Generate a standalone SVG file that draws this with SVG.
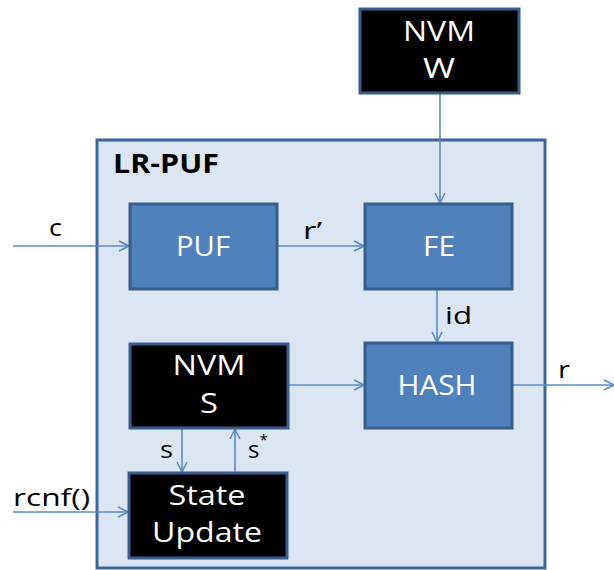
<svg xmlns="http://www.w3.org/2000/svg" width="614" height="570" viewBox="0 0 614 570">
  <defs>
    <style>
      .frame { fill: #dce6f2; stroke: #3c6494; stroke-width: 3; }
      .blue { fill: #4f81bd; stroke: #385d8a; stroke-width: 3; }
      .dark { fill: #000000; stroke: #385d8a; stroke-width: 3; }
      .wire { fill: none; stroke: #5b8bc7; stroke-width: 1.6; marker-end: url(#open); }
      .in { font-family: "Open Sans", "Liberation Sans", sans-serif; font-size: 28px; fill: #ffffff; text-anchor: middle; }
      .lbl { font-family: "Open Sans", "Liberation Sans", sans-serif; font-size: 24px; fill: #000000; }
      .title { font-family: "Open Sans", "Liberation Sans", sans-serif; font-size: 27px; font-weight: bold; fill: #000000; }
    </style>
    <marker id="open" viewBox="0 0 12 12" refX="11" refY="6" markerWidth="12" markerHeight="12" markerUnits="userSpaceOnUse" orient="auto">
      <path d="M1,1 L11,6 L1,11" fill="none" stroke="#5b8bc7" stroke-width="1.6"/>
    </marker>
  </defs>

  <!-- outer LR-PUF container -->
  <g id="lr-puf">
    <rect class="frame" x="97" y="140" width="448" height="428"/>
    <text class="title" x="113" y="173" textLength="106" lengthAdjust="spacingAndGlyphs">LR-PUF</text>
  </g>

  <!-- connectors and their labels -->
  <g id="connectors">
    <line class="wire" x1="13" y1="246" x2="129" y2="246"/>
    <line class="wire" x1="277" y1="246" x2="364" y2="246"/>
    <line class="wire" x1="440" y1="93" x2="440" y2="203"/>
    <line class="wire" x1="437" y1="289" x2="437" y2="342"/>
    <line class="wire" x1="288" y1="385" x2="364" y2="385"/>
    <line class="wire" x1="512" y1="385" x2="614" y2="385"/>
    <line class="wire" x1="182" y1="428" x2="182" y2="472"/>
    <line class="wire" x1="235" y1="473" x2="235" y2="429"/>
    <line class="wire" x1="13" y1="512" x2="128" y2="512"/>
    <text class="lbl" x="49" y="236" textLength="13" lengthAdjust="spacingAndGlyphs">c</text>
    <text class="lbl" x="303" y="239" textLength="19" lengthAdjust="spacingAndGlyphs">r’</text>
    <text class="lbl" x="445" y="324" textLength="27" lengthAdjust="spacingAndGlyphs">id</text>
    <text class="lbl" x="558" y="378" textLength="12" lengthAdjust="spacingAndGlyphs">r</text>
    <text class="lbl" x="160" y="458" textLength="13" lengthAdjust="spacingAndGlyphs">s</text>
    <text class="lbl" x="248" y="458">s<tspan dy="-13" font-size="15">*</tspan></text>
    <text class="lbl" x="13" y="506" textLength="77" lengthAdjust="spacingAndGlyphs">rcnf()</text>
  </g>

  <g id="nvm-w">
    <rect class="dark" x="360" y="9" width="159" height="84"/>
    <text class="in" x="439" y="41" textLength="72" lengthAdjust="spacingAndGlyphs">NVM</text>
    <text class="in" x="439" y="78" textLength="32" lengthAdjust="spacingAndGlyphs">W</text>
  </g>

  <g id="puf">
    <rect class="blue" x="130" y="204" width="147" height="85"/>
    <text class="in" x="203" y="256" textLength="54" lengthAdjust="spacingAndGlyphs">PUF</text>
  </g>

  <g id="fe">
    <rect class="blue" x="365" y="204" width="147" height="85"/>
    <text class="in" x="439" y="256" textLength="32" lengthAdjust="spacingAndGlyphs">FE</text>
  </g>

  <g id="hash">
    <rect class="blue" x="365" y="343" width="147" height="85"/>
    <text class="in" x="437" y="395" textLength="79" lengthAdjust="spacingAndGlyphs">HASH</text>
  </g>

  <g id="nvm-s">
    <rect class="dark" x="130" y="344" width="158" height="84"/>
    <text class="in" x="209" y="375" textLength="73" lengthAdjust="spacingAndGlyphs">NVM</text>
    <text class="in" x="209" y="413" textLength="18" lengthAdjust="spacingAndGlyphs">S</text>
  </g>

  <g id="state-update">
    <rect class="dark" x="129" y="473" width="158" height="85"/>
    <text class="in" x="207" y="505" textLength="77" lengthAdjust="spacingAndGlyphs">State</text>
    <text class="in" x="207" y="542" textLength="110" lengthAdjust="spacingAndGlyphs">Update</text>
  </g>
</svg>
